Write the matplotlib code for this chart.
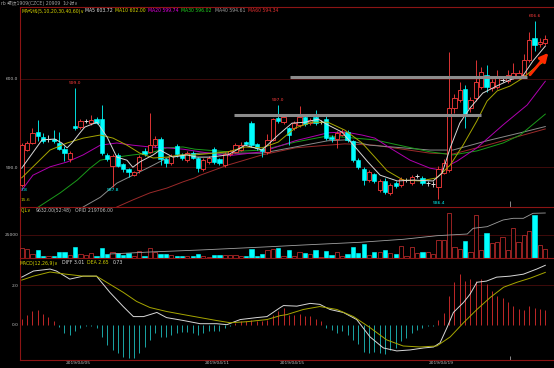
import matplotlib
matplotlib.use('Agg')
import matplotlib.pyplot as plt
from matplotlib.patches import Rectangle

FAM = ['DejaVu Sans', 'Noto Sans CJK SC']
W, H = 554, 368

# ---------------- data ----------------
opens = [588.0, 592.0, 592.75, 594.0, 593.4, 593.2, 593.2, 592.75, 592.1, 590.95,
         594.7, 594.55, 595.25, 595.0, 595.45, 595.45, 591.4, 590.15, 591.4, 590.35,
         589.8, 589.15, 589.7, 591.85, 591.75, 592.5, 593.2, 590.95, 590.5, 592.4,
         591.4, 590.85, 591.6, 591.05, 589.8, 590.6, 592.05, 590.95, 590.25, 591.5,
         591.75, 591.95, 592.85, 595.0, 592.65, 592.05, 591.75, 593.1, 595.6, 595.15,
         594.45, 594.45, 594.8, 595.7, 595.0, 595.7, 595.15, 595.45, 593.4, 593.2,
         593.65, 594.0, 592.95, 590.85, 589.8, 588.55, 589.25, 587.4, 588.45, 587.1,
         588.2, 588.0, 588.55, 588.2, 589.0, 588.8, 588.2, 588.1, 587.8, 589.35,
         589.7, 596.7, 597.6, 598.9, 596.7, 597.85, 599.1, 600.45, 599.0, 599.1,
         599.9, 599.8, 600.1, 600.2, 600.45, 602.15, 604.65, 604.0, 604.1]
highs = [592.7, 593.0, 594.4, 595.4, 593.9, 593.6, 594.2, 594.0, 592.4, 591.8,
         599.0, 595.5, 595.5, 595.9, 595.7, 597.0, 591.6, 591.5, 591.6, 590.5,
         589.9, 589.6, 591.4, 592.2, 596.1, 593.5, 593.4, 591.0, 591.5, 592.6,
         591.6, 591.8, 591.8, 591.2, 591.0, 591.3, 592.3, 591.1, 591.7, 592.0,
         592.8, 592.9, 593.0, 595.2, 592.8, 592.2, 593.8, 595.6, 597.0, 595.9,
         594.6, 595.2, 596.9, 595.9, 595.6, 596.5, 595.4, 595.8, 593.6, 594.1,
         594.3, 594.2, 593.1, 591.0, 590.0, 589.7, 589.4, 588.7, 588.8, 588.2,
         588.4, 588.9, 588.8, 589.1, 589.2, 589.0, 588.5, 588.4, 590.1, 590.9,
         603.1, 598.3, 599.6, 599.3, 598.0, 602.1, 601.4, 601.6, 600.0, 601.0,
         600.3, 601.0, 601.8, 601.0, 602.8, 605.3, 606.6, 604.6, 605.0]
lows = [587.8, 591.8, 592.6, 593.0, 592.8, 592.9, 592.8, 591.9, 590.7, 590.6,
        594.2, 594.3, 595.0, 594.8, 594.9, 591.4, 590.7, 587.8, 590.0, 589.5,
        588.9, 589.0, 589.4, 591.3, 591.6, 592.3, 590.3, 590.0, 590.3, 591.2,
        590.8, 590.6, 590.9, 589.5, 589.6, 590.4, 590.4, 590.2, 590.0, 591.3,
        591.6, 591.8, 592.5, 592.3, 592.0, 591.2, 591.5, 593.0, 595.0, 594.9,
        592.5, 594.2, 594.6, 594.7, 594.8, 594.8, 594.9, 593.1, 592.9, 592.2,
        593.5, 592.9, 590.6, 589.8, 588.0, 588.3, 588.2, 587.2, 587.0, 586.9,
        587.7, 587.8, 588.3, 588.0, 588.8, 588.0, 587.9, 587.8, 586.4, 589.2,
        589.5, 596.2, 597.4, 594.45, 596.3, 597.5, 598.9, 598.5, 598.6, 598.9,
        599.6, 599.5, 600.0, 600.0, 600.3, 601.9, 603.2, 603.6, 603.8]
closes = [592.5, 592.75, 593.9, 593.55, 593.0, 593.2, 593.0, 592.1, 591.6, 591.6,
          594.45, 595.25, 595.25, 595.35, 595.0, 591.6, 590.95, 591.3, 590.15, 589.8,
          589.45, 589.45, 591.15, 591.5, 592.5, 593.2, 590.95, 590.5, 591.3, 591.5,
          591.05, 591.6, 591.05, 589.9, 590.85, 591.05, 590.6, 590.5, 591.5, 591.85,
          592.5, 592.5, 592.65, 592.55, 592.2, 591.85, 593.1, 595.45, 595.25, 595.7,
          593.65, 595.0, 595.7, 594.9, 595.35, 595.0, 595.15, 593.3, 593.2, 593.9,
          594.0, 593.1, 590.85, 590.05, 588.55, 589.45, 588.45, 588.45, 587.2, 588.0,
          587.9, 588.7, 588.55, 588.9, 589.0, 588.2, 588.2, 588.1, 589.8, 590.5,
          596.7, 597.85, 598.75, 596.05, 597.6, 599.65, 600.8, 599.1, 599.65, 600.1,
          599.9, 600.45, 600.7, 600.7, 602.15, 604.4, 603.85, 604.2, 604.55]
volume = [11200, 9800, 4000, 8700, 2500, 1800, 2500, 6200, 6900, 3300,
          11600, 4000, 3300, 5400, 1800, 11200, 4000, 6900, 5400, 3300,
          5800, 2500, 7600, 2500, 11200, 6900, 4300, 4300, 3300, 2500,
          1800, 1800, 1800, 4300, 1800, 1100, 2900, 2900, 3300, 3300,
          3300, 1800, 1800, 9800, 1800, 4000, 8700, 9800, 11200, 2200,
          8700, 2200, 6200, 5100, 4000, 8700, 800, 7600, 3300, 6200,
          2200, 4000, 12300, 5800, 14900, 3300, 6200, 6900, 8700, 5800,
          4300, 13400, 2500, 11600, 5800, 6200, 6200, 4000, 19600, 19600,
          48600, 12300, 9800, 18500, 6200, 46700, 8700, 27500, 15900, 17000,
          22500, 8700, 32300, 17800, 25000, 29700, 46700, 14100, 9632]
macd_hist = [0.29, 0.51, 0.68, 0.72, 0.56, 0.38, 0.21, -0.12, -0.43, -0.51,
             -0.34, -0.17, -0.09, -0.05, -0.17, -0.60, -1.03, -1.28, -1.45, -1.62,
             -1.71, -1.71, -1.42, -1.11, -0.77, -0.43, -0.60, -0.60, -0.51, -0.43,
             -0.39, -0.38, -0.43, -0.51, -0.43, -0.34, -0.31, -0.34, -0.17, -0.09,
             0.09, 0.17, 0.21, 0.26, 0.21, 0.17, 0.22, 0.50, 0.70, 0.85,
             0.51, 0.51, 0.55, 0.43, 0.43, 0.29, 0.17, -0.17, -0.26, -0.43,
             -0.34, -0.51, -0.80, -0.97, -1.37, -1.42, -1.37, -1.45, -1.49, -1.28,
             -1.20, -0.85, -0.68, -0.43, -0.26, -0.17, -0.09, -0.05, 0.26, 0.60,
             1.45, 2.14, 2.56, 2.22, 2.31, 2.22, 2.31, 2.05, 1.71, 1.45,
             1.37, 1.16, 0.94, 0.77, 0.74, 0.94, 0.85, 0.80, 0.73]

# moving-average lines (candle index, price)
ma5_x = [0, 3.8, 6.2, 7.5, 8.5, 9.4, 10.9, 11.8, 14.1, 16.0, 17.8, 19.7, 20.8, 22.1, 24.6, 25.9,
         28.3, 30.9, 32.8, 35.2, 38.6, 41.8, 45.0, 48.0, 50.6, 53.0, 55.5, 57.3, 59.9, 62.4,
         64.8, 67.1, 70.3, 73.3, 77.0, 78.7, 80.2, 82.0, 83.9, 86.3, 88.9, 91.4, 93.8, 95.7, 98]
ma5_y = [589.9, 593.1, 593.2, 592.75, 592.2, 592.75, 593.9, 594.55, 595.1, 593.4, 591.15, 590.8,
         590.0, 590.6, 591.4, 591.95, 591.15, 591.4, 591.15, 591.15, 591.4, 592.5, 591.95, 593.65,
         595.0, 595.1, 595.45, 594.8, 594.0, 592.3, 590.6, 589.1, 588.45, 588.55, 588.45, 589.35,
         592.2, 595.0, 596.7, 598.4, 599.2, 599.9, 600.35, 602.05, 603.72]
ma10_x = [0, 2.1, 5.3, 8.5, 11.5, 14.7, 17.1, 19.7, 22.1, 24.6, 27.2, 29.6, 32.4, 38.6, 41.8,
          45.0, 48.0, 51.2, 54.3, 57.3, 60.5, 63.7, 66.1, 68.4, 71.4, 74.6, 77.7, 80.2, 82.6,
          85.2, 87.1, 89.0, 91.4, 93.8, 96.5, 98]
ma10_y = [588.8, 590.05, 591.95, 592.75, 593.3, 593.65, 593.3, 592.5, 591.6, 591.05, 591.15,
          591.4, 591.4, 591.75, 592.3, 592.2, 592.85, 594.45, 595.1, 595.1, 594.2, 592.75,
          591.15, 589.6, 588.55, 588.45, 588.8, 590.25, 592.5, 595.25, 597.5, 598.65, 599.2,
          600.1, 601.5, 602.0]
ma20_x = [0, 2.1, 5.3, 8.5, 11.5, 14.7, 17.8, 20.8, 24.0, 27.2, 30.2, 33.4, 38.6, 45.0, 51.2,
          57.3, 60.5, 63.7, 66.1, 68.9, 72.7, 76.4, 78.3, 81.5, 85.2, 90.1, 94.6, 98]
ma20_y = [587.4, 589.1, 590.05, 590.6, 591.4, 592.5, 592.75, 592.5, 592.3, 592.2, 592.05,
          591.75, 591.3, 591.75, 593.0, 593.9, 594.0, 593.65, 593.3, 592.2, 590.8, 589.9,
          589.7, 590.7, 592.2, 594.8, 597.05, 599.74]
ma30_x = [3.0, 7.2, 10.4, 12.8, 14.7, 17.8, 20.8, 24.0, 27.2, 30.2, 32.4, 38.6, 45.0, 51.2,
          57.3, 60.5, 66.1, 71.4, 76.4, 80.7, 85.2, 90.1, 93.3, 98]
ma30_y = [585.45, 587.1, 588.55, 589.9, 590.8, 591.15, 591.4, 591.6, 592.2, 592.3, 592.05,
          591.75, 591.95, 592.85, 593.55, 593.4, 593.1, 592.4, 591.75, 591.4, 591.85, 592.75,
          593.65, 596.02]
ma40_x = [11.5, 14.7, 17.8, 20.8, 24.0, 27.2, 30.2, 33.4, 38.6, 45.0, 51.2, 57.3, 60.5, 65.2,
          76.4, 80.7, 87.1, 93.3, 98]
ma40_y = [585.5, 586.6, 588.2, 589.1, 590.05, 591.05, 591.4, 591.6, 591.6, 591.6, 592.3, 593.0,
          593.1, 592.5, 591.95, 591.95, 593.0, 593.9, 594.61]
ma60_x = [17.8, 20.8, 24.0, 27.2, 30.2, 32.4, 33.4, 38.6, 45.0, 51.2, 57.3, 60.5, 66.1, 76.4,
          80.7, 87.1, 93.3, 98]
ma60_y = [585.5, 586.3, 587.1, 587.65, 588.35, 588.8, 589.1, 590.25, 591.4, 592.2, 592.5,
          592.65, 592.5, 591.6, 591.5, 592.5, 593.55, 594.34]

diff_x = [0, 2.2, 5.3, 6.5, 9.0, 11.5, 14.0, 16.5, 19.0, 20.9, 22.8, 25.3, 27.1, 30.3, 33.4,
          36.5, 38.4, 40.9, 44.0, 45.9, 48.4, 49.0, 51.5, 54.0, 55.8, 57.7, 60.2, 62.7, 65.2,
          67.7, 70.2, 72.7, 75.2, 77.1, 78.3, 79.6, 80.8, 82.7, 83.9, 85.2, 87.0, 88.9, 91.4,
          93.9, 96.4, 98]
diff_y = [2.41, 2.72, 2.82, 2.72, 2.31, 2.46, 2.46, 1.64, 0.92, 0.41, 0.41, 0.62, 0.36, 0.21,
          0.05, 0.05, 0.0, 0.26, 0.36, 0.41, 0.87, 0.97, 0.94, 1.08, 1.03, 0.77, 0.62, 0.26,
          -0.62, -1.18, -1.33, -1.28, -1.18, -1.13, -0.92, -0.15, 0.62, 1.13, 1.54, 2.15,
          2.21, 2.41, 2.46, 2.56, 2.82, 3.01]
dea_x = [0, 2.2, 5.3, 8.3, 11.5, 14.0, 16.5, 19.0, 21.5, 24.0, 27.1, 30.3, 33.4, 36.5, 39.0,
         42.1, 45.9, 48.4, 49.6, 52.7, 55.8, 59.0, 62.1, 65.2, 68.3, 71.4, 74.6, 77.7, 80.2,
         82.7, 85.2, 87.7, 90.2, 92.7, 95.2, 98]
dea_y = [2.26, 2.46, 2.67, 2.56, 2.46, 2.46, 2.05, 1.64, 1.18, 0.87, 0.67, 0.51, 0.36, 0.21,
         0.10, 0.15, 0.26, 0.46, 0.51, 0.77, 0.92, 0.77, 0.41, -0.15, -0.77, -1.08, -1.13,
         -1.08, -0.62, 0.10, 0.77, 1.38, 1.90, 2.15, 2.36, 2.65]

opid_x = [16.5, 24.0, 33.4, 46.5, 52.7, 63.3, 71.4, 77.7, 83.4, 84.5, 87.1, 90.1, 92.0, 93.9, 95.7, 98]
opid_y = [178706, 180706, 182706, 186006, 187706, 190406, 193406, 197006, 198706, 204406,
          206006, 212706, 214406, 214406, 219406, 219706]

date_labels = ['2019/04/05', '2019/04/11', '2019/04/15', '2019/04/19']
date_pos = [10.5, 36.6, 50.6, 78.5]

# ---------------- styling ----------------
BG = 'black'
RED = '#ff3c3c'
RED_D = '#b02828'
CYAN = '#00ffff'
AXC = '#8c1414'
GRIDC = '#4a0c0c'
TXT = '#c0c0c0'

fig = plt.figure(figsize=(W / 100, H / 100), dpi=100, facecolor=BG)

def ax_rect(top, bottom, left=20, right=554):
    return [left / W, 1 - bottom / H, (right - left) / W, (bottom - top) / H]

ax_p = fig.add_axes(ax_rect(7, 207))
ax_v = fig.add_axes(ax_rect(207, 258), sharex=ax_p)
ax_m = fig.add_axes(ax_rect(258, 360), sharex=ax_p)

for a in (ax_p, ax_v, ax_m):
    a.set_facecolor(BG)
    for s in a.spines.values():
        s.set_visible(False)
    a.spines['left'].set_visible(True)
    a.spines['left'].set_color(AXC)
    a.spines['left'].set_linewidth(0.8)
    a.spines['top'].set_visible(True)
    a.spines['top'].set_color(AXC)
    a.spines['top'].set_linewidth(0.8)
    a.tick_params(axis='both', length=0, colors=TXT, labelsize=3.2, pad=1)
    a.set_xticks([])

n = len(closes)
xs = list(range(n))
ax_p.set_xlim(-0.32, 99.63)
ax_p.set_ylim(585.5, 608.15)
ax_v.set_ylim(0, 55400)
ax_m.set_ylim(-1.79, 3.38)
ax_m.spines['bottom'].set_visible(True)
ax_m.spines['bottom'].set_color(AXC)
ax_m.spines['bottom'].set_linewidth(0.8)

# gridlines
ax_p.set_yticks([590, 600])
ax_p.set_yticklabels(['590.0', '600.0'])
for v in (590, 600):
    ax_p.axhline(v, color=GRIDC, lw=0.6, zorder=0)
ax_v.set_yticks([25000])
ax_v.set_yticklabels(['25000'])
ax_v.axhline(25000, color=GRIDC, lw=0.6, zorder=0)
ax_m.set_yticks([0.0, 2.0])
ax_m.set_yticklabels(['0.0', '2.0'])
ax_m.axhline(2.0, color=GRIDC, lw=0.6, zorder=0)

# candles
bw = 0.8
for i in xs:
    o, h, l, c = opens[i], highs[i], lows[i], closes[i]
    if c > o:
        col = RED
        ax_p.vlines(i, c, h, color=col, lw=0.6, zorder=3)
        ax_p.vlines(i, l, o, color=col, lw=0.6, zorder=3)
        ax_p.add_patch(Rectangle((i - bw / 2, o), bw, c - o, facecolor=BG,
                                 edgecolor=col, lw=0.6, zorder=4))
    elif c < o:
        col = CYAN
        ax_p.vlines(i, l, h, color=col, lw=0.6, zorder=3)
        ax_p.add_patch(Rectangle((i - bw / 2, c), bw, o - c, facecolor=col,
                                 edgecolor=col, lw=0.4, zorder=4))
    else:
        col = '#e0e0e0'
        ax_p.vlines(i, l, h, color=col, lw=0.6, zorder=3)
        ax_p.hlines(c, i - bw / 2, i + bw / 2, color=col, lw=0.7, zorder=4)

# moving averages
ax_p.plot(ma60_x, ma60_y, color='#9b2a2a', lw=0.7, zorder=2)
ax_p.plot(ma40_x, ma40_y, color='#8a8a8a', lw=0.7, zorder=2)
ax_p.plot(ma30_x, ma30_y, color='#1a9a1a', lw=0.7, zorder=2)
ax_p.plot(ma20_x, ma20_y, color='#b000b0', lw=0.7, zorder=2)
ax_p.plot(ma10_x, ma10_y, color='#a6a600', lw=0.7, zorder=5)
ax_p.plot(ma5_x, ma5_y, color='#d8d8d8', lw=0.7, zorder=5)

# drawn annotations
ax_p.hlines(600.23, 50.2, 94.6, color='#8c8c8c', lw=2.2, zorder=6)
ax_p.hlines(595.9, 39.7, 86.0, color='#8c8c8c', lw=2.2, zorder=6)
ax_p.annotate('', xy=(98.9, 603.2), xytext=(94.8, 600.23),
              arrowprops=dict(arrowstyle='-|>,head_length=0.5,head_width=0.25',
                              color='#ff2a00', lw=2.0), zorder=7)
ax_p.vlines(91.4, 585.5, 586.2, color=TXT, lw=0.5)
ax_m.vlines(91.4, -1.79, -1.6, color=TXT, lw=0.5)

# extreme labels
fs = 3.2
ax_p.text(10, 599.35, '599.0', color=RED, fontsize=fs, ha='center', va='bottom', family=FAM)
ax_p.text(48, 597.35, '597.0', color=RED, fontsize=fs, ha='center', va='bottom', family=FAM)
ax_p.text(96, 606.95, '606.6', color=RED, fontsize=fs, ha='center', va='bottom', family=FAM)
ax_p.text(17, 587.6, '587.8', color=CYAN, fontsize=fs, ha='center', va='top', family=FAM)
ax_p.text(78, 586.2, '586.4', color=CYAN, fontsize=fs, ha='center', va='top', family=FAM)
ax_p.text(-0.2, 587.6, '7.8', color=CYAN, fontsize=fs, ha='left', va='top', family=FAM)
ax_p.text(-0.2, 586.5, '15.6', color='#c8c800', fontsize=fs, ha='left', va='top', family=FAM)

# volume
for i in xs:
    up = closes[i] >= opens[i]
    if up:
        ax_v.add_patch(Rectangle((i - bw / 2, 0), bw, volume[i], facecolor=BG,
                                 edgecolor=RED_D, lw=0.6, zorder=3))
    else:
        ax_v.add_patch(Rectangle((i - bw / 2, 0), bw, volume[i], facecolor=CYAN,
                                 edgecolor=CYAN, lw=0.4, zorder=3))
ax_o = ax_v.twinx()
ax_o.set_ylim(174706, 174706 + 51000)
ax_o.plot(opid_x, opid_y, color='#a0a0a0', lw=0.6)
ax_o.axis('off')

# MACD
for i in xs:
    v = macd_hist[i]
    ax_m.vlines(i, 0, v, color=('#c02828' if v >= 0 else '#1aa5a5'), lw=0.7, zorder=2)
ax_m.plot(diff_x, diff_y, color='#d8d8d8', lw=0.7, zorder=3)
ax_m.plot(dea_x, dea_y, color='#a6a600', lw=0.7, zorder=3)

# date labels
for p, lab in zip(date_pos, date_labels):
    ax_m.text(p, -1.85, lab, color=TXT, fontsize=fs, ha='center', va='top', family=FAM,
              clip_on=False)

# header texts
def ftext(x, y, s, c, **kw):
    fig.text(x / W, 1 - y / H, s, color=c, fontsize=3.3, va='center', ha='left', family=FAM, **kw)

ftext(1, 3.5, 'rb 螺纹1909(CZCE) 20909', '#a0a0a0')
ftext(62, 3.5, '1小时∨', '#a0a0a0')
ftext(21, 11, 'MA均线(5,10,20,30,40,60)∨', '#d4d400')
ftext(85, 11, 'MA5 603.72', '#e0e0e0')
ftext(115, 11, 'MA10 602.00', '#d4d400')
ftext(148, 11, 'MA20 599.74', '#e000e0')
ftext(181, 11, 'MA30 596.02', '#20d020')
ftext(215, 11, 'MA40 594.61', '#a0a0a0')
ftext(248, 11, 'MA60 594.34', '#e03030')
ftext(21, 210.5, 'CJL∨', '#d4d400')
ftext(36, 210.5, '9632.00(52:48)', '#c0c0c0')
ftext(75, 210.5, 'OPID 219706.00', '#c0c0c0')
ftext(20, 263, 'MACD(12,26,9)∨', '#d4d400')
ftext(62, 263, 'DIFF 3.01', '#e0e0e0')
ftext(87, 263, 'DEA 2.65', '#d4d400')
ftext(113, 263, '0.73', '#e0e0e0')

fig.savefig('out.png', dpi=100, facecolor=BG)
